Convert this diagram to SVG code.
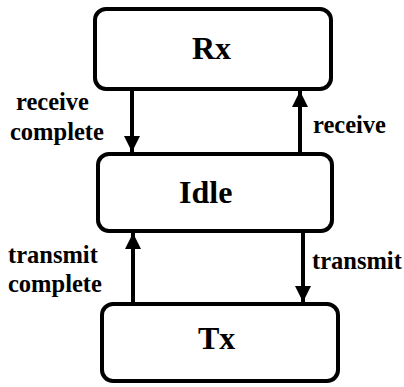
<svg xmlns="http://www.w3.org/2000/svg" width="404" height="387" viewBox="0 0 404 387">
<defs>
<style>
.node rect{fill:#fff;stroke:#000;stroke-width:4}
.big{font-family:"Liberation Serif","Times New Roman",serif;font-weight:bold;font-size:32px;fill:#000}
.lbl{font-family:"Liberation Serif","Times New Roman",serif;font-weight:bold;font-size:24.5px;fill:#000}
.edge line{stroke:#000;stroke-width:4}
</style>
<marker id="ah" markerUnits="userSpaceOnUse" markerWidth="18" markerHeight="16" refX="16" refY="8" orient="auto">
<path d="M0,0 L16,8 L0,16 Z" fill="#000"/>
</marker>
</defs>
<rect width="404" height="387" fill="#fff"/>
<g id="node-rx" class="node">
<rect x="95" y="9" width="236" height="80" rx="11"/>
<text class="big" x="192" y="59">Rx</text>
</g>
<g id="node-idle" class="node">
<rect x="98" y="154" width="234" height="77" rx="11"/>
<text class="big" x="179" y="203">Idle</text>
</g>
<g id="node-tx" class="node">
<rect x="102" y="304" width="236" height="77" rx="11"/>
<text class="big" x="198" y="349">Tx</text>
</g>
<g id="connectors" class="edge">
<line x1="132" y1="91" x2="132" y2="152" marker-end="url(#ah)"/>
<line x1="300" y1="152" x2="300" y2="91" marker-end="url(#ah)"/>
<line x1="303" y1="233" x2="303" y2="302" marker-end="url(#ah)"/>
<line x1="133" y1="302" x2="133" y2="233" marker-end="url(#ah)"/>
<text class="lbl" x="16" y="110">receive</text>
<text class="lbl" x="10" y="140">complete</text>
<text class="lbl" x="313" y="133">receive</text>
<text class="lbl" x="8" y="263">transmit</text>
<text class="lbl" x="8" y="292">complete</text>
<text class="lbl" x="312" y="269">transmit</text>
</g>
</svg>
